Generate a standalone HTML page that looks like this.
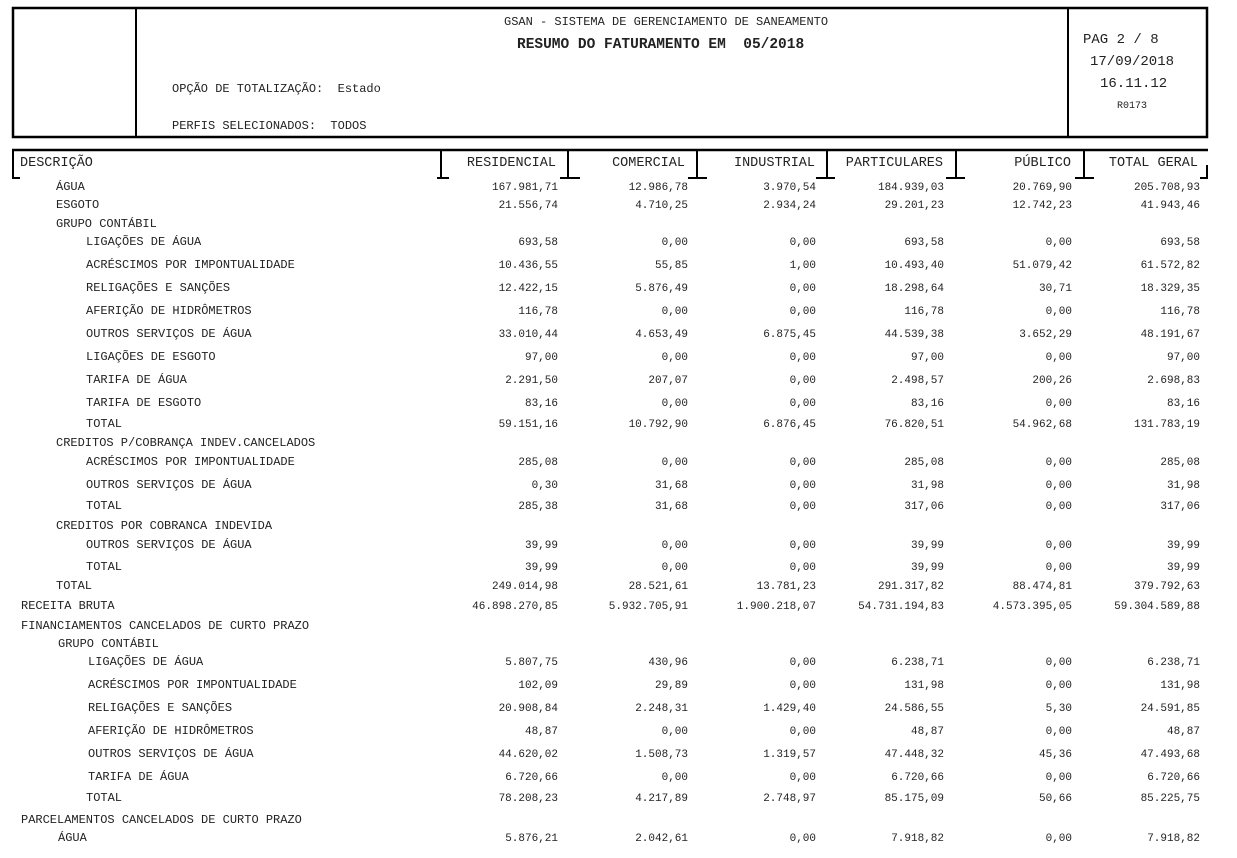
<!DOCTYPE html>
<html><head><meta charset="utf-8"><style>
body{margin:0;background:#fff;width:1237px;height:858px;overflow:hidden;position:relative;font-family:"Liberation Mono","Courier New",monospace;font-size:12px;color:#222}
.t{position:absolute;white-space:pre;line-height:14px}
.r{position:absolute;white-space:pre;line-height:14px;text-align:right;width:140px}
</style></head><body>
<svg width="1237" height="858" style="position:absolute;left:0;top:0" fill="none" stroke="#000">
<rect x="13" y="8" width="1194" height="129" stroke-width="2.5"/>
<line x1="136" y1="8" x2="136" y2="137" stroke-width="2"/>
<line x1="1068" y1="8" x2="1068" y2="137" stroke-width="2"/>
<line x1="12" y1="150" x2="1208" y2="150" stroke-width="2.5"/>
<g stroke-width="2">
<line x1="13" y1="150" x2="13" y2="178"/><line x1="12" y1="178" x2="20" y2="178"/>
<line x1="441" y1="150" x2="441" y2="178"/><line x1="437" y1="178" x2="449" y2="178"/>
<line x1="568" y1="150" x2="568" y2="178"/><line x1="560" y1="178" x2="580" y2="178"/>
<line x1="697" y1="150" x2="697" y2="178"/><line x1="688" y1="178" x2="707" y2="178"/>
<line x1="827" y1="150" x2="827" y2="178"/><line x1="816" y1="178" x2="835" y2="178"/>
<line x1="956" y1="150" x2="956" y2="178"/><line x1="946" y1="178" x2="965" y2="178"/>
<line x1="1084" y1="150" x2="1084" y2="178"/><line x1="1075" y1="178" x2="1094" y2="178"/>
<line x1="1207" y1="165" x2="1207" y2="178"/><line x1="1200" y1="178" x2="1208" y2="178"/>
</g>
</svg>
<div class="t" style="left:504px;top:15px;font-size:12px">GSAN - SISTEMA DE GERENCIAMENTO DE SANEAMENTO</div>
<div class="t" style="left:517px;top:38px;font-size:14.5px;font-weight:bold">RESUMO DO FATURAMENTO EM  05/2018</div>
<div class="t" style="left:172px;top:82px;font-size:12px">OPÇÃO DE TOTALIZAÇÃO:  Estado</div>
<div class="t" style="left:172px;top:119px;font-size:12px">PERFIS SELECIONADOS:  TODOS</div>
<div class="t" style="left:1083px;top:33px;font-size:14px">PAG 2 / 8</div>
<div class="t" style="left:1090px;top:55px;font-size:14px">17/09/2018</div>
<div class="t" style="left:1100px;top:77px;font-size:14px">16.11.12</div>
<div class="t" style="left:1117px;top:100px;font-size:10px">R0173</div>
<div class="t" style="left:20px;top:157px;font-size:13.5px">DESCRIÇÃO</div>
<div class="r" style="left:416px;top:157px;font-size:13.5px">RESIDENCIAL</div>
<div class="r" style="left:545px;top:157px;font-size:13.5px">COMERCIAL</div>
<div class="r" style="left:675px;top:157px;font-size:13.5px">INDUSTRIAL</div>
<div class="r" style="left:803px;top:157px;font-size:13.5px">PARTICULARES</div>
<div class="r" style="left:931px;top:157px;font-size:13.5px">PÚBLICO</div>
<div class="r" style="left:1058px;top:157px;font-size:13.5px">TOTAL GERAL</div>
<div id="rows"></div>
<script>
var R=[
[187,56,"ÁGUA","167.981,71","12.986,78","3.970,54","184.939,03","20.769,90","205.708,93"],
[205,56,"ESGOTO","21.556,74","4.710,25","2.934,24","29.201,23","12.742,23","41.943,46"],
[224,56,"GRUPO CONTÁBIL"],
[242,86,"LIGAÇÕES DE ÁGUA","693,58","0,00","0,00","693,58","0,00","693,58"],
[265,86,"ACRÉSCIMOS POR IMPONTUALIDADE","10.436,55","55,85","1,00","10.493,40","51.079,42","61.572,82"],
[288,86,"RELIGAÇÕES E SANÇÕES","12.422,15","5.876,49","0,00","18.298,64","30,71","18.329,35"],
[311,86,"AFERIÇÃO DE HIDRÔMETROS","116,78","0,00","0,00","116,78","0,00","116,78"],
[334,86,"OUTROS SERVIÇOS DE ÁGUA","33.010,44","4.653,49","6.875,45","44.539,38","3.652,29","48.191,67"],
[357,86,"LIGAÇÕES DE ESGOTO","97,00","0,00","0,00","97,00","0,00","97,00"],
[380,86,"TARIFA DE ÁGUA","2.291,50","207,07","0,00","2.498,57","200,26","2.698,83"],
[403,86,"TARIFA DE ESGOTO","83,16","0,00","0,00","83,16","0,00","83,16"],
[424,86,"TOTAL","59.151,16","10.792,90","6.876,45","76.820,51","54.962,68","131.783,19"],
[443,56,"CREDITOS P/COBRANÇA INDEV.CANCELADOS"],
[462,86,"ACRÉSCIMOS POR IMPONTUALIDADE","285,08","0,00","0,00","285,08","0,00","285,08"],
[485,86,"OUTROS SERVIÇOS DE ÁGUA","0,30","31,68","0,00","31,98","0,00","31,98"],
[506,86,"TOTAL","285,38","31,68","0,00","317,06","0,00","317,06"],
[526,56,"CREDITOS POR COBRANCA INDEVIDA"],
[545,86,"OUTROS SERVIÇOS DE ÁGUA","39,99","0,00","0,00","39,99","0,00","39,99"],
[567,86,"TOTAL","39,99","0,00","0,00","39,99","0,00","39,99"],
[586,56,"TOTAL","249.014,98","28.521,61","13.781,23","291.317,82","88.474,81","379.792,63"],
[606,21,"RECEITA BRUTA","46.898.270,85","5.932.705,91","1.900.218,07","54.731.194,83","4.573.395,05","59.304.589,88"],
[626,21,"FINANCIAMENTOS CANCELADOS DE CURTO PRAZO"],
[644,58,"GRUPO CONTÁBIL"],
[662,88,"LIGAÇÕES DE ÁGUA","5.807,75","430,96","0,00","6.238,71","0,00","6.238,71"],
[685,88,"ACRÉSCIMOS POR IMPONTUALIDADE","102,09","29,89","0,00","131,98","0,00","131,98"],
[708,88,"RELIGAÇÕES E SANÇÕES","20.908,84","2.248,31","1.429,40","24.586,55","5,30","24.591,85"],
[731,88,"AFERIÇÃO DE HIDRÔMETROS","48,87","0,00","0,00","48,87","0,00","48,87"],
[754,88,"OUTROS SERVIÇOS DE ÁGUA","44.620,02","1.508,73","1.319,57","47.448,32","45,36","47.493,68"],
[777,88,"TARIFA DE ÁGUA","6.720,66","0,00","0,00","6.720,66","0,00","6.720,66"],
[798,86,"TOTAL","78.208,23","4.217,89","2.748,97","85.175,09","50,66","85.225,75"],
[820,21,"PARCELAMENTOS CANCELADOS DE CURTO PRAZO"],
[838,58,"ÁGUA","5.876,21","2.042,61","0,00","7.918,82","0,00","7.918,82"]];
var ends=[558,688,816,944,1072,1200],h="";
R.forEach(function(r){var y=r[0]-7;h+='<div class="t" style="left:'+r[1]+'px;top:'+y+'px;font-size:12px">'+r[2]+'</div>';
for(var i=3;i<r.length;i++)h+='<div class="r" style="left:'+(ends[i-3]-140)+'px;top:'+(y+1)+'px;font-size:11px">'+r[i]+'</div>';});
document.getElementById("rows").innerHTML=h;
</script>
</body></html>
